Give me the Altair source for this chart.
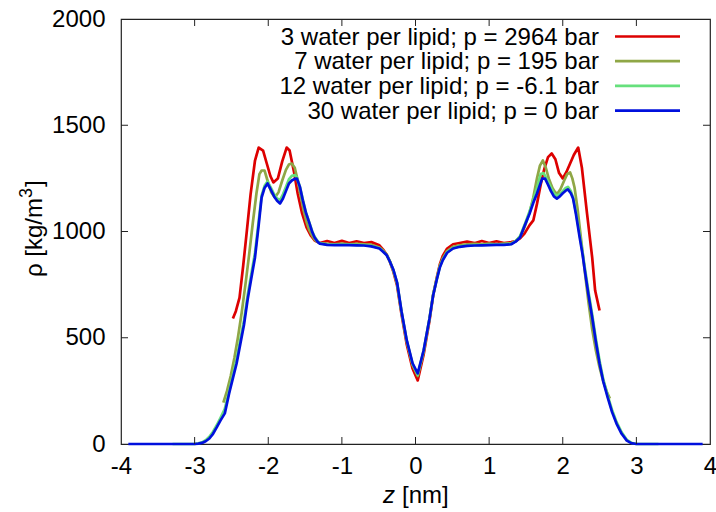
import altair as alt
import pandas as pd

# ---------------- data ----------------
labels = [
    "3 water per lipid; p = 2964 bar",
    "7 water per lipid; p = 195 bar",
    "12 water per lipid; p = -6.1 bar",
    "30 water per lipid; p = 0 bar",
]
colors = ["#dd0000", "#8fa746", "#66e07c", "#0010dd"]

red = [(-2.48, 591), (-2.44, 625), (-2.39, 689), (-2.34, 840), (-2.29, 1005), (-2.24, 1175),
       (-2.18, 1334), (-2.13, 1395), (-2.07, 1381), (-2.02, 1320), (-1.97, 1260), (-1.93, 1231),
       (-1.87, 1249), (-1.81, 1330), (-1.75, 1395), (-1.71, 1381), (-1.65, 1280), (-1.60, 1179),
       (-1.54, 1085), (-1.48, 1019), (-1.42, 980), (-1.37, 958), (-1.30, 946), (-1.20, 955),
       (-1.10, 946), (-1.00, 956), (-0.90, 946), (-0.80, 954), (-0.70, 946), (-0.60, 950),
       (-0.49, 935), (-0.44, 915), (-0.39, 890), (-0.35, 860), (-0.30, 810), (-0.25, 745),
       (-0.19, 610), (-0.12, 470), (-0.04, 355), (0.03, 299), (0.11, 420), (0.19, 580),
       (0.24, 700), (0.29, 785), (0.33, 845), (0.37, 885), (0.43, 920), (0.51, 940),
       (0.60, 946), (0.70, 953), (0.80, 945), (0.90, 955), (1.00, 946), (1.10, 954),
       (1.20, 946), (1.30, 950), (1.36, 955), (1.42, 968), (1.48, 990), (1.55, 1030),
       (1.60, 1052), (1.65, 1130), (1.70, 1220), (1.75, 1295), (1.80, 1350), (1.85, 1367),
       (1.90, 1340), (1.95, 1275), (2.00, 1250), (2.05, 1280), (2.10, 1320), (2.15, 1360),
       (2.21, 1395), (2.26, 1300), (2.33, 1084), (2.40, 877), (2.44, 722), (2.50, 628)]

olive = [(-2.61, 195), (-2.56, 250), (-2.51, 320), (-2.46, 405), (-2.41, 505), (-2.36, 620),
         (-2.31, 750), (-2.26, 890), (-2.21, 1040), (-2.16, 1180), (-2.12, 1270), (-2.09, 1287),
         (-2.05, 1287), (-2.01, 1240), (-1.96, 1185), (-1.91, 1160), (-1.86, 1185), (-1.81, 1240),
         (-1.76, 1290), (-1.72, 1315), (-1.68, 1320), (-1.64, 1300), (-1.60, 1240), (-1.56, 1170),
         (-1.52, 1100), (-1.48, 1045), (-1.44, 1005), (-1.40, 978), (-1.36, 958), (-1.30, 945),
         (-1.20, 942), (-1.10, 940), (-1.00, 943), (-0.90, 940), (-0.80, 942), (-0.70, 940),
         (-0.60, 938), (-0.49, 925), (-0.44, 910), (-0.39, 890), (-0.35, 862), (-0.30, 815),
         (-0.25, 755), (-0.19, 620), (-0.12, 485), (-0.04, 372), (0.03, 320), (0.11, 435),
         (0.19, 590), (0.24, 705), (0.29, 780), (0.33, 838), (0.37, 873), (0.43, 908),
         (0.51, 928), (0.60, 935), (0.70, 940), (0.80, 942), (0.90, 940), (1.00, 943),
         (1.10, 940), (1.20, 943), (1.30, 945), (1.36, 955), (1.42, 975), (1.48, 1020),
         (1.55, 1090), (1.60, 1160), (1.65, 1250), (1.69, 1310), (1.73, 1334), (1.77, 1300),
         (1.81, 1250), (1.86, 1205), (1.90, 1183), (1.93, 1179), (1.97, 1200), (2.02, 1240),
         (2.06, 1270), (2.10, 1278), (2.13, 1250), (2.16, 1207), (2.20, 1110), (2.25, 960),
         (2.30, 810), (2.35, 665), (2.40, 540), (2.45, 440), (2.50, 360), (2.55, 295),
         (2.60, 245), (2.64, 214)]

green = [(-3.30, 0), (-3.00, 0), (-2.95, 3), (-2.90, 8), (-2.85, 18), (-2.80, 34), (-2.75, 58),
         (-2.70, 88), (-2.65, 122), (-2.59, 165), (-2.53, 250), (-2.48, 325), (-2.43, 400),
         (-2.38, 490), (-2.33, 580), (-2.28, 700), (-2.23, 800), (-2.18, 900), (-2.13, 1050),
         (-2.09, 1170), (-2.05, 1215), (-2.01, 1235), (-1.97, 1210), (-1.92, 1175), (-1.88, 1155),
         (-1.84, 1148), (-1.80, 1175), (-1.76, 1210), (-1.72, 1245), (-1.68, 1262), (-1.64, 1265),
         (-1.61, 1255), (-1.57, 1210), (-1.53, 1150), (-1.49, 1092), (-1.44, 1040), (-1.40, 998),
         (-1.37, 975), (-1.33, 955), (-1.30, 945), (-1.20, 939), (-1.10, 938), (-1.00, 938),
         (-0.90, 938), (-0.80, 937), (-0.70, 936), (-0.60, 932), (-0.49, 922), (-0.44, 907),
         (-0.39, 889), (-0.35, 861), (-0.30, 818), (-0.25, 758), (-0.19, 622), (-0.12, 487),
         (-0.04, 376), (0.03, 326), (0.11, 437), (0.19, 590), (0.24, 702), (0.29, 777),
         (0.33, 833), (0.37, 868), (0.43, 903), (0.51, 922), (0.60, 930), (0.70, 934),
         (0.80, 936), (0.90, 937), (1.00, 938), (1.10, 939), (1.20, 939), (1.30, 942),
         (1.36, 955), (1.42, 978), (1.48, 1030), (1.55, 1095), (1.60, 1150), (1.65, 1205),
         (1.70, 1270), (1.74, 1275), (1.80, 1235), (1.84, 1205), (1.88, 1180), (1.92, 1168),
         (1.96, 1175), (2.00, 1190), (2.04, 1205), (2.07, 1210), (2.11, 1190), (2.14, 1160),
         (2.18, 1090), (2.23, 985), (2.27, 900), (2.30, 830), (2.35, 715), (2.40, 610),
         (2.45, 495), (2.50, 392), (2.55, 305), (2.61, 228), (2.67, 160), (2.73, 104),
         (2.80, 55), (2.87, 20), (2.93, 6), (3.00, 0), (3.30, 0)]

blue = [(-3.90, 0), (-3.00, 0), (-2.95, 2), (-2.90, 5), (-2.85, 13), (-2.80, 26), (-2.75, 48),
        (-2.70, 78), (-2.65, 110), (-2.59, 144), (-2.53, 240), (-2.48, 310), (-2.43, 379),
        (-2.38, 470), (-2.33, 560), (-2.28, 680), (-2.23, 780), (-2.18, 878), (-2.13, 1030),
        (-2.09, 1160), (-2.05, 1205), (-2.01, 1226), (-1.97, 1200), (-1.92, 1165), (-1.88, 1145),
        (-1.84, 1132), (-1.80, 1155), (-1.76, 1190), (-1.72, 1225), (-1.68, 1240), (-1.64, 1248),
        (-1.61, 1249), (-1.57, 1210), (-1.53, 1146), (-1.49, 1090), (-1.44, 1038), (-1.40, 995),
        (-1.37, 972), (-1.33, 952), (-1.30, 943), (-1.20, 937), (-1.10, 936), (-1.00, 936),
        (-0.90, 936), (-0.80, 935), (-0.70, 934), (-0.60, 930), (-0.49, 920), (-0.44, 905),
        (-0.39, 888), (-0.35, 860), (-0.30, 820), (-0.25, 760), (-0.19, 625), (-0.12, 490),
        (-0.04, 380), (0.03, 332), (0.11, 440), (0.19, 590), (0.24, 700), (0.29, 775),
        (0.33, 830), (0.37, 865), (0.43, 900), (0.51, 920), (0.60, 928), (0.70, 932),
        (0.80, 934), (0.90, 935), (1.00, 936), (1.10, 937), (1.20, 937), (1.30, 940),
        (1.36, 952), (1.42, 972), (1.48, 1025), (1.55, 1085), (1.60, 1135), (1.65, 1179),
        (1.72, 1249), (1.76, 1249), (1.80, 1220), (1.84, 1190), (1.88, 1165), (1.92, 1155),
        (1.96, 1165), (2.00, 1180), (2.04, 1192), (2.07, 1198), (2.11, 1180), (2.14, 1155),
        (2.18, 1080), (2.23, 972), (2.27, 890), (2.30, 816), (2.35, 700), (2.40, 595),
        (2.45, 480), (2.50, 379), (2.55, 295), (2.61, 219), (2.67, 150), (2.73, 96),
        (2.80, 48), (2.87, 16), (2.93, 4), (3.00, 0), (3.90, 0)]

x_ticks = [-4, -3, -2, -1, 0, 1, 2, 3, 4]
y_ticks = [0, 500, 1000, 1500, 2000]
x_title_italic = "z"
x_title_rest = "[nm]"
y_title_main = "ρ [kg/m"
y_title_sup = "3"
y_title_end = "]"

# ---------------- layout ----------------
W, H = 589, 425
FONT = "Liberation Sans"
FS = 24
TICK = 7

xscale = alt.Scale(domain=[-4, 4], nice=False, zero=False)
yscale = alt.Scale(domain=[0, 2000], nice=False, zero=False)
xaxis = alt.Axis(values=x_ticks, title=None, ticks=False, domain=False, grid=False,
                 labelFontSize=FS, labelFont=FONT, labelColor="black", labelPadding=10,
                 labelExpr="'' + datum.value", labelFlush=False)
yaxis = alt.Axis(values=y_ticks, title=None, ticks=False, domain=False, grid=False,
                 labelFontSize=FS, labelFont=FONT, labelColor="black", labelPadding=16,
                 labelExpr="'' + datum.value", labelFlush=False)

series = [red, olive, green, blue]
layers = []
for pts, col in zip(series, colors):
    df = pd.DataFrame(pts, columns=["z", "rho"])
    layers.append(
        alt.Chart(df).mark_line(strokeWidth=2.7, color=col, strokeJoin="round").encode(
            x=alt.X("z:Q", scale=xscale, axis=xaxis),
            y=alt.Y("rho:Q", scale=yscale, axis=yaxis),
            order="z:Q")
    )

# inward ticks on all four sides (gnuplot style)
xt = pd.DataFrame({"z": x_ticks[1:-1]})
yt = pd.DataFrame({"rho": y_ticks[1:-1]})
tick_color = "#222222"
layers.append(alt.Chart(xt).mark_rule(color=tick_color, strokeWidth=1).encode(
    x=alt.X("z:Q", scale=xscale, axis=xaxis), y=alt.value(H), y2=alt.value(H - TICK)))
layers.append(alt.Chart(xt).mark_rule(color=tick_color, strokeWidth=1).encode(
    x=alt.X("z:Q", scale=xscale, axis=xaxis), y=alt.value(0), y2=alt.value(TICK)))
layers.append(alt.Chart(yt).mark_rule(color=tick_color, strokeWidth=1).encode(
    y=alt.Y("rho:Q", scale=yscale, axis=yaxis), x=alt.value(0), x2=alt.value(TICK)))
layers.append(alt.Chart(yt).mark_rule(color=tick_color, strokeWidth=1).encode(
    y=alt.Y("rho:Q", scale=yscale, axis=yaxis), x=alt.value(W - TICK), x2=alt.value(W)))

# legend (text right-aligned, line sample to the right)
LEG_TEXT_X = 478
LEG_LINE_X0, LEG_LINE_X1 = 494, 559
LEG_Y0, LEG_DY = 17.5, 24.7
for i, (lab, col) in enumerate(zip(labels, colors)):
    yy = LEG_Y0 + LEG_DY * i
    ld = pd.DataFrame({"label": [lab]})
    layers.append(alt.Chart(ld).mark_text(
        align="right", baseline="middle", font=FONT, fontSize=FS, color="black", dy=1).encode(
        text="label:N", x=alt.value(LEG_TEXT_X), y=alt.value(yy)))
    layers.append(alt.Chart(ld).mark_rule(color=col, strokeWidth=2.7).encode(
        x=alt.value(LEG_LINE_X0), x2=alt.value(LEG_LINE_X1), y=alt.value(yy)))

# axis titles
tdf = pd.DataFrame({"a": [x_title_italic], "b": [x_title_rest],
                    "c": [y_title_main], "d": [y_title_sup], "e": [y_title_end]})
layers.append(alt.Chart(tdf).mark_text(
    align="right", baseline="alphabetic", font=FONT, fontSize=FS, fontStyle="italic",
    color="black").encode(text="a:N", x=alt.value(274), y=alt.value(484)))
layers.append(alt.Chart(tdf).mark_text(
    align="left", baseline="alphabetic", font=FONT, fontSize=FS, color="black").encode(
    text="b:N", x=alt.value(281), y=alt.value(484)))

YT_X = -86
YT_START = 258
W_MAIN = 79
W_SUP = 11
layers.append(alt.Chart(tdf).mark_text(
    align="left", baseline="middle", font=FONT, fontSize=FS, color="black", angle=270).encode(
    text="c:N", x=alt.value(YT_X), y=alt.value(YT_START)))
layers.append(alt.Chart(tdf).mark_text(
    align="left", baseline="middle", font=FONT, fontSize=18, color="black", angle=270).encode(
    text="d:N", x=alt.value(YT_X - 8), y=alt.value(YT_START - W_MAIN)))
layers.append(alt.Chart(tdf).mark_text(
    align="left", baseline="middle", font=FONT, fontSize=FS, color="black", angle=270).encode(
    text="e:N", x=alt.value(YT_X), y=alt.value(YT_START - W_MAIN - W_SUP)))

chart = alt.layer(*layers).properties(
    width=W, height=H,
    autosize=alt.AutoSizeParams(type="none"),
    padding={"left": 121, "top": 19, "right": 6, "bottom": 68},
    background="white",
).configure_view(stroke="#222222", strokeWidth=1.2)

chart.save("out.html", embed_options={"renderer": "svg", "actions": False})
